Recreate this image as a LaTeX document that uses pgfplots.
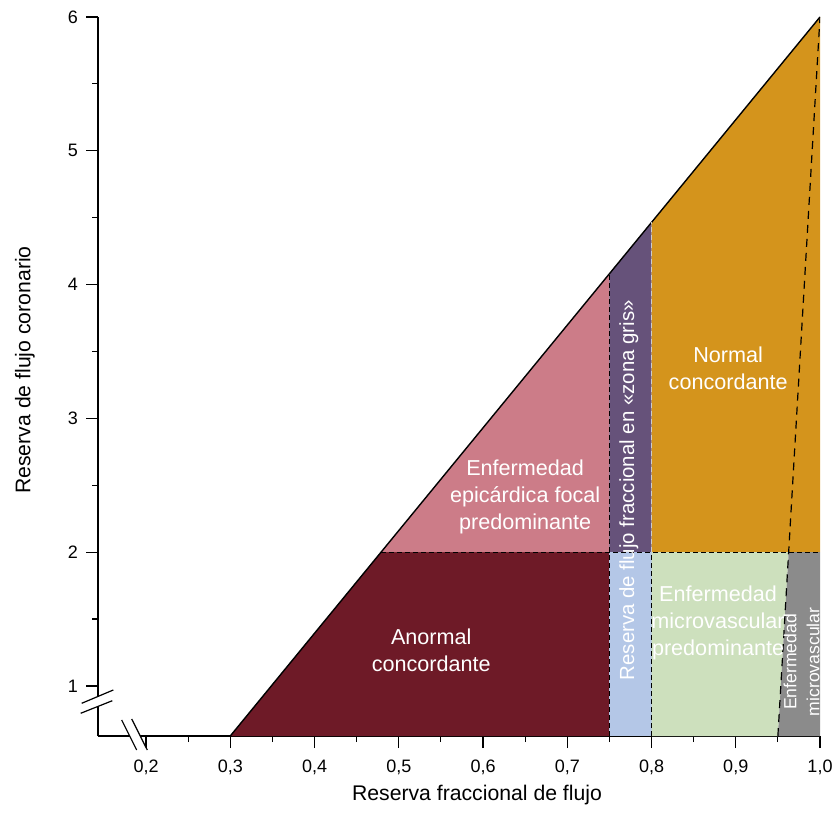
\documentclass[border=0pt]{standalone}
\usepackage{pgfplots}
\pgfplotsset{compat=1.18}
\usepackage{fontspec}
\setmainfont{Liberation Sans}
\usetikzlibrary{calc}
\definecolor{cDark}{HTML}{6E1A27}
\definecolor{cPink}{HTML}{CC7C88}
\definecolor{cPurple}{HTML}{66527A}
\definecolor{cBlue}{HTML}{B4C7E7}
\definecolor{cOrange}{HTML}{D4941C}
\definecolor{cGreen}{HTML}{CDE0BD}
\definecolor{cGray}{HTML}{8B8B8B}
\begin{document}
\begin{tikzpicture}
\begin{axis}[
  scale only axis, width=361pt, height=359.5pt,
  xmin=0.143, xmax=1.0, ymin=0.626, ymax=6,
  axis x line=bottom, axis y line=left,
  axis line style={-, line width=0.6pt},
  xtick={0.2,0.3,0.4,0.5,0.6,0.7,0.8,0.9,1.0},
  xticklabels={{0,2},{0,3},{0,4},{0,5},{0,6},{0,7},{0,8},{0,9},{1,0}},
  ytick={1,2,3,4,5,6},
  minor xtick={0.25,0.35,0.45,0.55,0.65,0.75,0.85,0.95},
  minor ytick={1.5,2.5,3.5,4.5,5.5},
  tick align=outside, major tick length=6pt, minor tick length=3pt,
  tick style={black, line width=0.6pt},
  tick label style={font=\fontsize{9}{10}\selectfont},
  xticklabel style={yshift=-2.5pt},
  yticklabel style={xshift=-0.5pt},
  /pgf/number format/assume math mode=true,
  clip=true,
]
% regions
\addplot[fill=cDark, draw=none] coordinates {(0.3,0.626) (0.479,2) (0.75,2) (0.75,0.626)} -- cycle;
\addplot[fill=cPink, draw=none] coordinates {(0.479,2) (0.75,4.081) (0.75,2)} -- cycle;
\addplot[fill=cPurple, draw=none] coordinates {(0.75,2) (0.75,4.081) (0.8,4.465) (0.8,2)} -- cycle;
\addplot[fill=cBlue, draw=none] coordinates {(0.75,0.626) (0.75,2) (0.8,2) (0.8,0.626)} -- cycle;
\addplot[fill=cOrange, draw=none] coordinates {(0.8,2) (0.8,4.465) (1.0,6) (1.0,2)} -- cycle;
\addplot[fill=cGreen, draw=none] coordinates {(0.8,0.626) (0.8,2) (0.9628,2) (0.95,0.626)} -- cycle;
\addplot[fill=cGray, draw=none] coordinates {(0.95,0.626) (0.9628,2) (1.0,2) (1.0,0.626)} -- cycle;
% lines
\addplot[black, line width=0.7pt] coordinates {(0.3,0.626) (1.0,6)};
\addplot[black, line width=0.6pt, dash pattern=on 2.5pt off 1.5pt] coordinates {(0.479,2) (1.0,2)};
\addplot[black, line width=0.6pt, dash pattern=on 2.5pt off 1.5pt] coordinates {(0.75,0.626) (0.75,4.081)};
\addplot[black, line width=0.6pt, dash pattern=on 2.5pt off 1.5pt] coordinates {(0.8,0.626) (0.8,2)};
\addplot[white!80!black, line width=0.6pt, dash pattern=on 2.5pt off 1.5pt] coordinates {(0.8,2) (0.8,4.465)};
\addplot[black, line width=0.6pt, dash pattern=on 4pt off 3pt] coordinates {(0.95,0.626) (1.0,6)};
% texts
\node[white, align=center, font=\fontsize{10.8}{13.5}\selectfont] at (axis cs:0.5386,1.268) {Anormal\\concordante};
\node[white, align=center, font=\fontsize{10.8}{13.5}\selectfont] at (axis cs:0.650,2.41) {Enfermedad\\epicárdica focal\\predominante};
\node[white, align=center, font=\fontsize{10.8}{13.5}\selectfont] at (axis cs:0.891,3.375) {Normal\\concordante};
\node[white, align=center, font=\fontsize{10.8}{13.5}\selectfont] at (axis cs:0.879,1.47) {Enfermedad\\microvascular\\predominante};
\node[white, rotate=90, font=\fontsize{10.2}{12}\selectfont] at (axis cs:0.773,2.463) {Reserva de flujo fraccional en «zona gris»};
\node[white, rotate=90, align=center, font=\fontsize{8.8}{11.5}\selectfont] at (axis cs:0.978,1.18) {Enfermedad\\microvascular};
\coordinate (O) at (rel axis cs:0,0);
\end{axis}
% axis labels
\node[font=\fontsize{10.6}{12}\selectfont] at ($(O)+(189.5pt,-29.5pt)$) {Reserva fraccional de flujo};
\node[font=\fontsize{10.6}{12}\selectfont, rotate=90] at ($(O)+(-36.5pt,183pt)$) {Reserva de flujo coronario};
% axis breaks
\fill[white] ($(O)+(-8.15pt,16.35pt)$) -- ($(O)+(7.65pt,23pt)$) -- ($(O)+(7.15pt,17.65pt)$) -- ($(O)+(-8.65pt,11.35pt)$) -- cycle;
\draw[line width=0.6pt] ($(O)+(-8.15pt,16.35pt)$) -- ($(O)+(7.65pt,23pt)$);
\draw[line width=0.6pt] ($(O)+(-8.65pt,11.35pt)$) -- ($(O)+(7.15pt,17.65pt)$);
\fill[white] ($(O)+(11.85pt,8pt)$) -- ($(O)+(19.35pt,-7pt)$) -- ($(O)+(24.65pt,-7pt)$) -- ($(O)+(16.85pt,8.5pt)$) -- cycle;
\draw[line width=0.6pt] ($(O)+(11.85pt,8pt)$) -- ($(O)+(19.35pt,-7pt)$);
\draw[line width=0.6pt] ($(O)+(16.85pt,8.5pt)$) -- ($(O)+(24.65pt,-7pt)$);
\pgfresetboundingbox
\path[use as bounding box] ($(O)+(-49pt,-49pt)$) rectangle ($(O)+(368pt,368pt)$);
\end{tikzpicture}
\end{document}
